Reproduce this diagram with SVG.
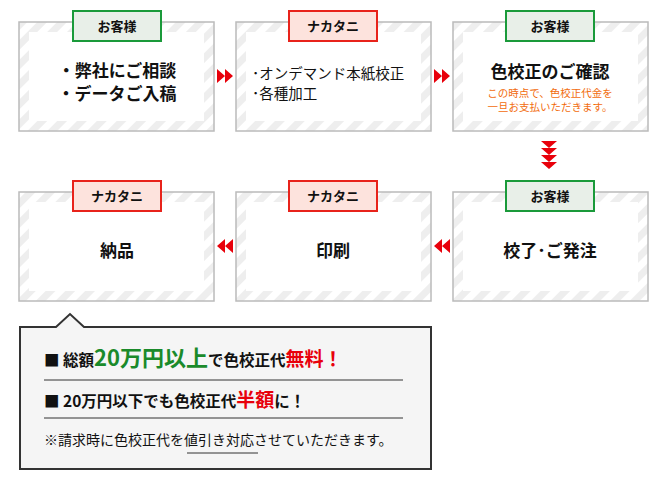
<svg xmlns="http://www.w3.org/2000/svg" width="670" height="492" viewBox="0 0 670 492">
<defs>
<pattern id="st" width="14" height="14" patternUnits="userSpaceOnUse" patternTransform="rotate(45)">
<rect width="14" height="14" fill="#fff"/><rect width="7" height="14" fill="#eeeeee"/>
</pattern>
<style>
text{font-family:"Noto Sans CJK JP",sans-serif;fill:#111}
.box{fill:url(#st);stroke:#bbb;stroke-width:1.5}
.in{fill:#fff}
.g{fill:#e8efe8;stroke:#1a9a3a;stroke-width:2}
.r{fill:#fde3dd;stroke:#e8231b;stroke-width:2}
.tab{font-size:13px;font-weight:bold;text-anchor:middle}
.big{font-size:17px;font-weight:bold;text-anchor:middle}
.ar{fill:#e8000b}
</style>
</defs>
<g id="n1"><rect class="box" x="19" y="22" width="195" height="109"/><rect class="in" x="29" y="32" width="175" height="89"/><rect class="g" x="73" y="11" width="88" height="30"/><text class="tab" x="117" y="31">お客様</text><text class="big" x="117" y="77">・弊社にご相談</text><text class="big" x="117" y="100">・データご入稿</text></g>
<g id="n2"><rect class="box" x="236" y="22" width="195" height="109"/><rect class="in" x="246" y="32" width="175" height="89"/><rect class="r" x="289" y="11" width="88" height="30"/><text class="tab" x="333" y="31">ナカタニ</text><text x="252" y="79" font-size="14.5">･オンデマンド本紙校正</text><text x="252" y="99" font-size="14.5">･各種加工</text></g>
<g id="n3"><rect class="box" x="453" y="22" width="195" height="109"/><rect class="in" x="463" y="32" width="175" height="89"/><rect class="g" x="506" y="11" width="88" height="30"/><text class="tab" x="550" y="31">お客様</text><text class="big" x="550" y="78" font-size="20">色校正のご確認</text><text x="550" y="97" font-size="10.5" text-anchor="middle" style="fill:#f26c0d">この時点で、色校正代金を</text><text x="550" y="111" font-size="10.5" text-anchor="middle" style="fill:#f26c0d">一旦お支払いただきます。</text></g>
<g id="n4"><rect class="box" x="453" y="192" width="195" height="109"/><rect class="in" x="463" y="202" width="175" height="89"/><rect class="g" x="506" y="181" width="88" height="30"/><text class="tab" x="550" y="201">お客様</text><text class="big" x="550" y="257">校了･ご発注</text></g>
<g id="n5"><rect class="box" x="236" y="192" width="195" height="109"/><rect class="in" x="246" y="202" width="175" height="89"/><rect class="r" x="289" y="181" width="88" height="30"/><text class="tab" x="333" y="201">ナカタニ</text><text class="big" x="333" y="257">印刷</text></g>
<g id="n6"><rect class="box" x="19" y="192" width="195" height="109"/><rect class="in" x="29" y="202" width="175" height="89"/><rect class="r" x="73" y="181" width="88" height="30"/><text class="tab" x="117" y="201">ナカタニ</text><text class="big" x="117" y="257">納品</text></g>
<g id="connectors">
<path class="ar" d="M217 69l8 7l-8 7zM225 69l8 7l-8 7z"/>
<path class="ar" d="M434 69l8 7l-8 7zM442 69l8 7l-8 7z"/>
<path class="ar" d="M541 141h16l-8 7zM541 148h16l-8 7zM541 155h16l-8 7zM541 162h16l-8 7z"/>
<path class="ar" d="M450 239l-8 7l8 7zM442 239l-8 7l8 7z"/>
<path class="ar" d="M233 239l-8 7l8 7zM225 239l-8 7l8 7z"/>
</g>
<g id="callout">
<path d="M20 327H56L70 314L84 327H431V469H20Z" fill="#f5f5f5" stroke="#333" stroke-width="2"/>
<text x="44" y="366" font-size="15.5" font-weight="bold">■ 総額<tspan font-size="22" style="fill:#1a8a2a">20万円以上</tspan>で色校正代<tspan font-size="19" style="fill:#e8000b">無料！</tspan></text>
<line x1="44" y1="380" x2="403" y2="380" stroke="#333"/>
<text x="44" y="407" font-size="15.5" font-weight="bold">■ 20万円以下でも色校正代<tspan font-size="19" style="fill:#e8000b">半額</tspan>に！</text>
<line x1="44" y1="418" x2="403" y2="418" stroke="#333"/>
<text x="44" y="445" font-size="14">※請求時に色校正代を値引き対応させていただきます。</text>
<line x1="187" y1="453" x2="258" y2="453" stroke="#333"/>
</g>
</svg>
